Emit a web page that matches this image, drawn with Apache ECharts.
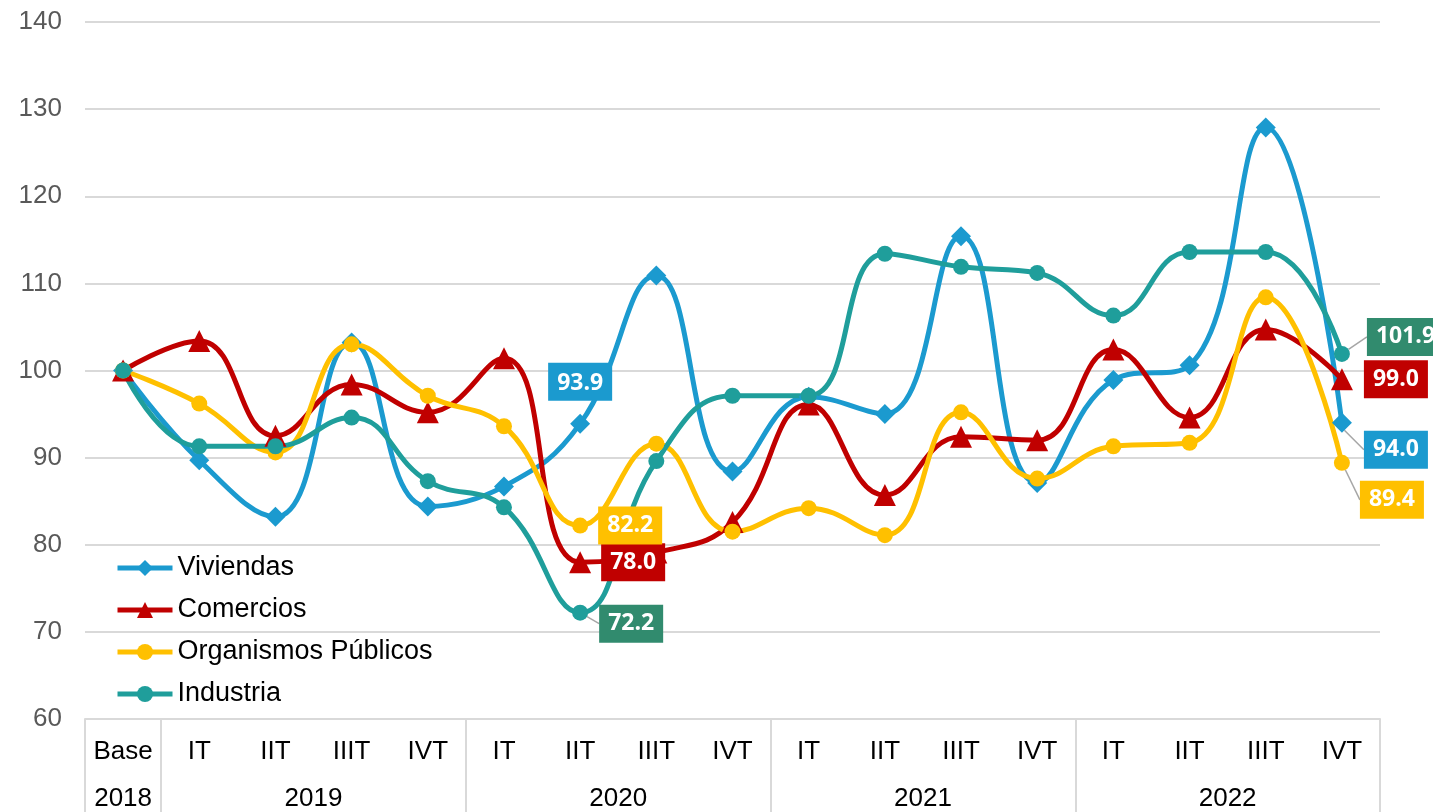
<!DOCTYPE html>
<html>
<head>
<meta charset="utf-8">
<script src="https://cdn.jsdelivr.net/npm/echarts@6/dist/echarts.min.js"></script>
<style>
  html, body { margin: 0; padding: 0; background: #fff; }
  #chart { width: 1433px; height: 812px; }
</style>
</head>
<body>
<div id="chart"></div>
<script>
// datos
var categories = ['Base', 'IT', 'IIT', 'IIIT', 'IVT', 'IT', 'IIT', 'IIIT', 'IVT',
                  'IT', 'IIT', 'IIIT', 'IVT', 'IT', 'IIT', 'IIIT', 'IVT'];
var years = ['2018', '2019', '2020', '2021', '2022'];
var yearCenters = [0.5, 3, 7, 11, 15];
var yearBounds = [0, 1, 5, 9, 13, 17];

var viviendas = [100, 89.7, 83.2, 103.2, 84.4, 86.7, 93.9, 110.9, 88.4, 97.0, 95.0, 115.4, 87.1, 98.9, 100.6, 127.9, 94.0];
var comercios = [100, 103.4, 92.5, 98.4, 95.2, 101.4, 78.0, 79.1, 82.6, 96.1, 85.7, 92.4, 92.0, 102.4, 94.6, 104.7, 99.0];
var organismos = [100, 96.2, 90.6, 103.0, 97.1, 93.6, 82.2, 91.6, 81.5, 84.2, 81.1, 95.2, 87.6, 91.3, 91.7, 108.4, 89.4];
var industria = [100, 91.3, 91.3, 94.6, 87.3, 84.3, 72.2, 89.6, 97.1, 97.1, 113.4, 111.9, 111.2, 106.3, 113.6, 113.6, 101.9];

var chart = echarts.init(document.getElementById('chart'));

function boxLabel(bg, pos, dist) {
  return {
    show: true,
    position: pos,
    distance: dist,
    formatter: function (p) { return p.value.toFixed(1); },
    backgroundColor: bg,
    color: '#fff',
    fontFamily: 'Open Sans',
    fontWeight: 'bold',
    fontSize: 23,
    padding: [9, 9, 6, 9]
  };
}

// solo algunos puntos llevan etiqueta; algunas con línea guía
function build(values, labels, leaders) {
  return values.map(function (v, i) {
    if (!labels[i]) return v;
    return { value: v, label: labels[i], labelLine: { show: !!leaders[i] } };
  });
}

function mkSeries(name, color, symbol, size, values, labels, shifts) {
  return {
    name: name,
    type: 'line',
    smooth: 0.45,
    symbol: symbol,
    symbolSize: size,
    data: build(values, labels, shifts),
    lineStyle: { color: color, width: 5 },
    itemStyle: { color: color },
    label: { show: false },
    labelLine: { show: false, lineStyle: { color: '#a6a6a6', width: 1.5 } },
    labelLayout: function (p) {
      var s = shifts[p.dataIndex];
      return s ? { dx: s[0], dy: s[1] } : {};
    },
    z: 3
  };
}

var blue = '#1b9acf', red = '#c00000', yellow = '#ffc000', teal = '#1f9e9b', green = '#318b6e';

var series = [
  mkSeries('Viviendas', blue, 'diamond', 20, viviendas,
    { 6: boxLabel(blue, 'top', 13), 16: boxLabel(blue, 'right', 12) },
    { 16: [0, 27] }),
  mkSeries('Comercios', red, 'triangle', 22, comercios,
    { 6: boxLabel(red, 'right', 10), 16: boxLabel(red, 'right', 11) },
    {}),
  mkSeries('Organismos Públicos', yellow, 'circle', 16, organismos,
    { 6: boxLabel(yellow, 'right', 10), 16: boxLabel(yellow, 'right', 10) },
    { 16: [0, 37] }),
  mkSeries('Industria', teal, 'circle', 16, industria,
    { 6: boxLabel(green, 'right', 11), 16: boxLabel(green, 'right', 17) },
    { 6: [0, 11], 16: [0, -17] })
];

chart.setOption({
  animation: false,
  textStyle: { fontFamily: 'Liberation Sans' },
  grid: { left: 85, right: 53, top: 22, bottom: 92 },
  legend: {
    orient: 'vertical',
    left: 115,
    top: 553,
    padding: 0,
    itemWidth: 55,
    itemHeight: 20,
    itemGap: 12,
    lineStyle: { width: 5 },
    textStyle: { fontSize: 27, color: '#000', lineHeight: 30 },
    data: ['Viviendas', 'Comercios', 'Organismos Públicos', 'Industria']
  },
  xAxis: [
    {
      type: 'category',
      data: categories,
      boundaryGap: true,
      axisLine: { show: true, lineStyle: { color: '#d9d9d9', width: 2 } },
      axisTick: { show: false },
      axisLabel: { color: '#000', fontSize: 26, margin: 20, interval: 0 }
    },
    {
      type: 'value',
      position: 'bottom',
      min: 0,
      max: 17,
      axisLine: { show: false },
      splitLine: { show: false },
      axisTick: {
        show: true,
        length: 95,
        customValues: yearBounds,
        lineStyle: { color: '#d9d9d9', width: 2 }
      },
      axisLabel: {
        color: '#000',
        fontSize: 26,
        margin: 67,
        customValues: yearCenters,
        formatter: function (v) { return years[yearCenters.indexOf(v)]; }
      }
    }
  ],
  yAxis: {
    type: 'value',
    min: 60,
    max: 140,
    interval: 10,
    axisLine: { show: false },
    axisTick: { show: false },
    axisLabel: { color: '#595959', fontSize: 26, margin: 23 },
    splitLine: { lineStyle: { color: '#d9d9d9', width: 2 } }
  },
  series: series
});
</script>
</body>
</html>
